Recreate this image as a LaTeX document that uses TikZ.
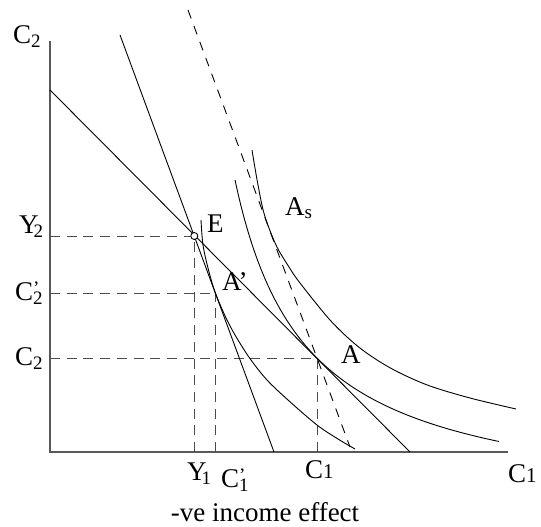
\documentclass[tikz,border=0pt]{standalone}
\usepackage{fontspec}
\setmainfont{Liberation Serif}
\newcommand{\sbs}[1]{\raisebox{-4pt}{\fontsize{19}{19}\selectfont #1}}
\newcommand{\prs}[1]{\rlap{\raisebox{6pt}{\fontsize{19}{19}\selectfont ’}}\raisebox{-4pt}{\fontsize{19}{19}\selectfont #1}}
\newcommand{\onb}[1]{{\fontsize{21}{21}\selectfont #1}}
\begin{document}
\begin{tikzpicture}[x=1pt,y=-1pt,
  lab/.style={inner sep=0pt, anchor=base west, font=\fontsize{27}{30}\selectfont},
  curve/.style={line width=0.9pt, black},
  guide/.style={line width=0.9pt, black!70, dash pattern=on 10pt off 6.7pt},
  slantdash/.style={line width=0.9pt, black, dash pattern=on 9pt off 8pt},
  axisline/.style={line width=1.3pt, black!65}]
\useasboundingbox (0,0) rectangle (541,527);
% key points
\coordinate (O) at (50,452);
\coordinate (ytop) at (50,41);
\coordinate (xend) at (508,452);
\coordinate (E) at (194.3,236);
\coordinate (Ap) at (215.5,293.3);
\coordinate (A) at (317,358);
\coordinate (B0) at (50,90);
\coordinate (B1) at (410,452);
\coordinate (S0) at (120,35);
\coordinate (S1) at (274,452);
\coordinate (D0) at (188,10);
\coordinate (D1) at (350,447);
\coordinate (y2) at (50,236);
\coordinate (c2p) at (50,293.3);
\coordinate (c2) at (50,358);
\coordinate (y1) at (194.3,452);
\coordinate (c1p) at (215.5,452);
\coordinate (c1) at (317,452);
% axes
\draw[axisline] (ytop) -- (O) -- (xend);
% guides
\draw[guide] (y2) -- (E);
\draw[guide] (c2p) -- (Ap);
\draw[guide] (c2) -- (A);
\draw[guide] (y1) -- (E);
\draw[guide] (c1p) -- (Ap);
\draw[guide] (c1) -- (A);
% budget lines
\draw[curve] (B0) -- (B1);
\draw[curve] (S0) -- (S1);
\draw[slantdash] (D0) -- (D1);
% indifference curves
\draw[curve] plot[smooth, tension=0.55] coordinates {(201,220) (203,245) (208.5,270) (215.5,293.3) (227,320) (238,340) (251,360) (267,380) (288,400) (317,425) (338,439) (355,449)};
\draw[curve] plot[domain=235:499, samples=90] (\x,{511.5-100*(234.34/(\x-164.3))});
\draw[curve] plot[smooth, tension=0.55] coordinates {(252,150) (258,185) (264.5,215) (276,245) (289,267) (300,283) (330,320) (355,344) (377,360) (400,373) (430,386) (470,398) (516,409)};
% endowment point
\node[circle, draw, fill=white, line width=0.9pt, inner sep=0pt, minimum size=7pt] (Ec) at (E) {};
% labels
\node[lab] (lC2top) at (13,44) {C\sbs{2}};
\node[lab] (lY2) at (19,233) {Y\kern-5pt\sbs{2}};
\node[lab] (lC2p) at (15,300) {C\prs{2}};
\node[lab] (lC2) at (15,365) {C\sbs{2}};
\node[lab] (lE) at (207,232) {E};
\node[lab] (lAp) at (222,290) {A’};
\node[lab] (lA) at (341,363.5) {A};
\node[lab] (lAs) at (285,215) {A\raisebox{-3pt}{\fontsize{19}{19}\selectfont s}};
\node[lab] (lY1) at (187,480) {Y\kern-5pt\sbs{1}};
\node[lab] (lC1p) at (221,487) {C\prs{1}};
\node[lab] (lC1) at (305,478) {C\onb{1}};
\node[lab] (lC1r) at (508,482) {C\onb{1}};
\node[lab, anchor=base] (cap) at (265,521) {-ve income effect};
\end{tikzpicture}
\end{document}
